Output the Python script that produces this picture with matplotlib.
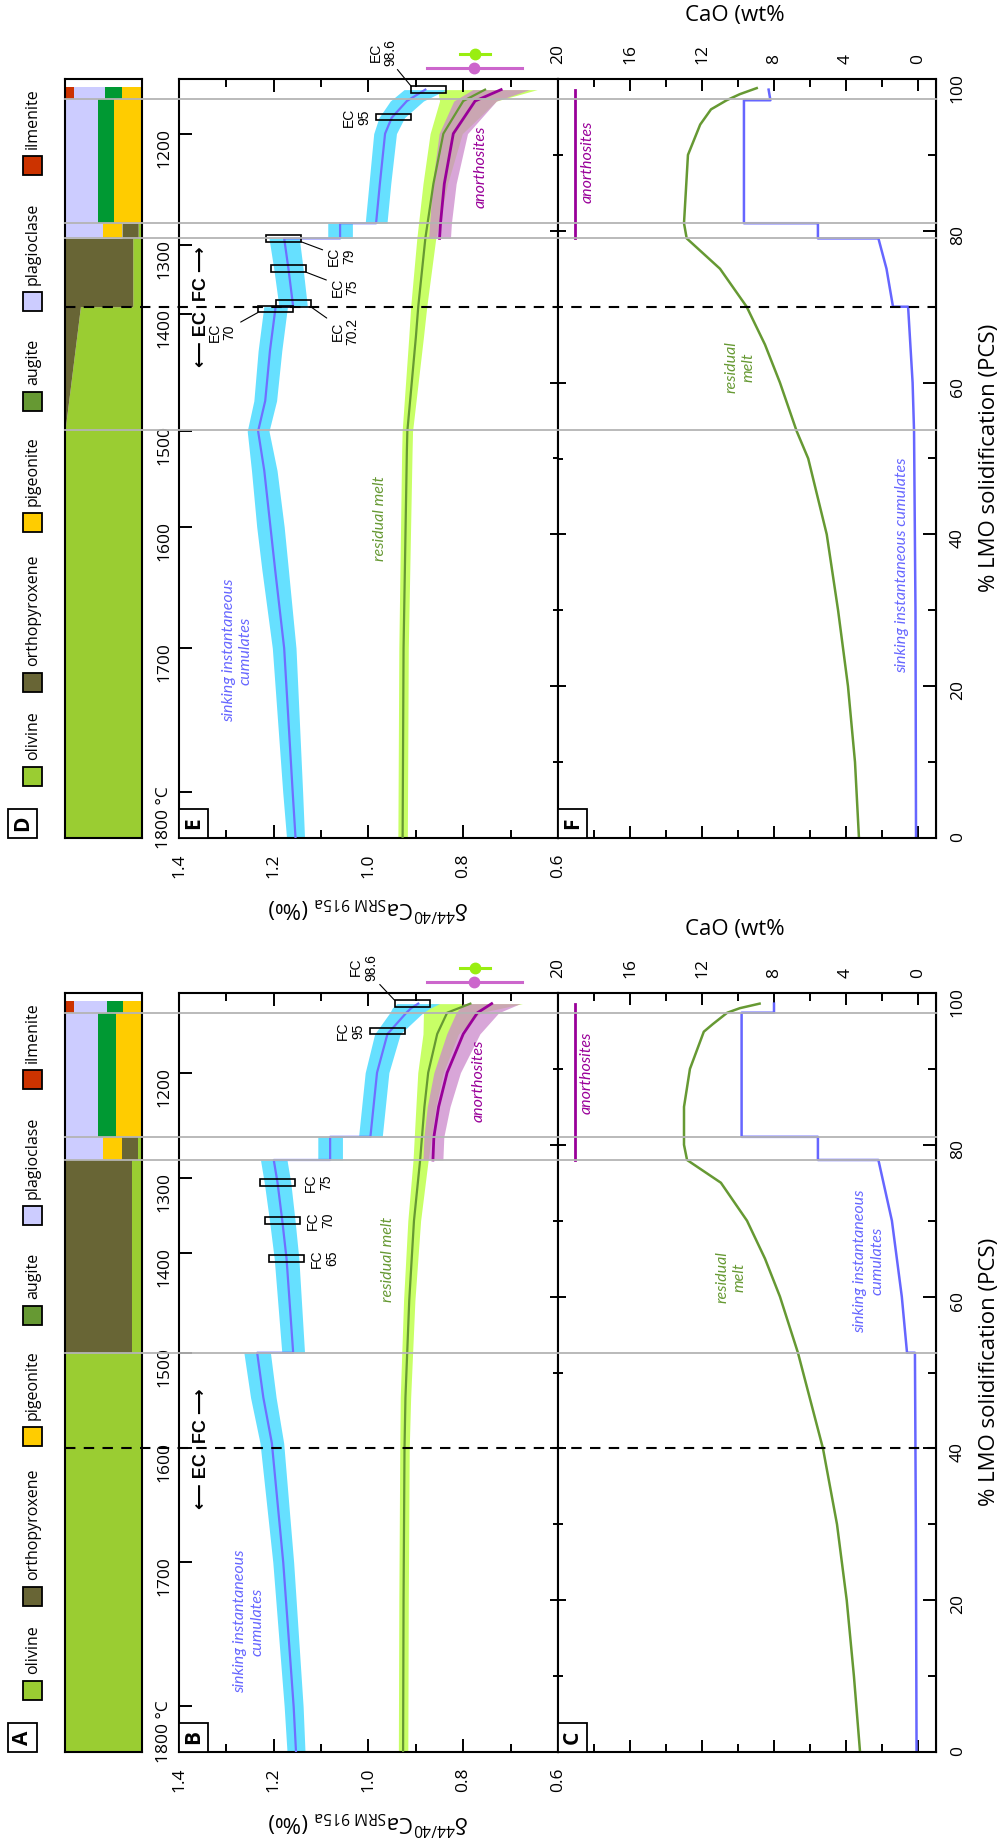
import numpy as np
import matplotlib
matplotlib.use('Agg')
import matplotlib.pyplot as plt
from matplotlib import transforms
from matplotlib.lines import Line2D
from matplotlib.patches import Rectangle
from matplotlib.ticker import MultipleLocator, FormatStrFormatter, NullFormatter

plt.rcParams['font.family'] = ['Open Sans', 'DejaVu Sans']
plt.rcParams['mathtext.fontset'] = 'custom'
plt.rcParams['mathtext.rm'] = 'Open Sans'
plt.rcParams['mathtext.it'] = 'Open Sans:italic'
plt.rcParams['mathtext.bf'] = 'Open Sans:bold'

W, H = 1005, 1843

# ---------------- data ----------------
minerals = ['olivine', 'orthopyroxene', 'pigeonite', 'augite', 'plagioclase', 'ilmenite']

# mineral strip: breakpoints (% LMO) and stacked fractions in the order above
fc_strip_lmo = [0, 52.6, 52.6, 78.0, 78.0, 81.05, 81.05, 97.4, 97.4, 99.0]
fc_strip_frac = [[1, 0, 0, 0, 0, 0], [1, 0, 0, 0, 0, 0],
                 [0.13, 0.87, 0, 0, 0, 0], [0.13, 0.87, 0, 0, 0, 0],
                 [0.05, 0.21, 0.25, 0, 0.49, 0], [0.05, 0.21, 0.25, 0, 0.49, 0],
                 [0, 0, 0.34, 0.23, 0.43, 0], [0, 0, 0.34, 0.23, 0.43, 0],
                 [0, 0, 0.25, 0.20, 0.43, 0.12], [0, 0, 0.25, 0.20, 0.43, 0.12]]
ec_strip_lmo = [0, 53.7, 70, 70, 79, 79, 81, 81, 97.4, 97.4, 99.0]
ec_strip_frac = [[1, 0, 0, 0, 0, 0], [1, 0, 0, 0, 0, 0], [0.80, 0.20, 0, 0, 0, 0],
                 [0.12, 0.88, 0, 0, 0, 0], [0.12, 0.88, 0, 0, 0, 0],
                 [0.05, 0.21, 0.25, 0, 0.49, 0], [0.05, 0.21, 0.25, 0, 0.49, 0],
                 [0, 0, 0.36, 0.21, 0.43, 0], [0, 0, 0.36, 0.21, 0.43, 0],
                 [0, 0, 0.26, 0.22, 0.40, 0.12], [0, 0, 0.26, 0.22, 0.40, 0.12]]

temp_labels = ['1800 °C', '1700', '1600', '1500', '1400', '1300', '1200']
fc_temp_lmo = [6.05, 25.0, 40.0, 52.6, 65.7, 75.6, 89.5]
ec_temp_lmo = [6.0, 25.0, 41.0, 53.6, 69.1, 78.1, 92.7]

fc_phase_lmo = [52.6, 78.0, 81.05, 97.4]
ec_phase_lmo = [53.7, 79.0, 81.0, 97.4]
fc_switch_lmo = 40
ec_switch_lmo = 70

# d44/40Ca of sinking instantaneous cumulates
fc_cum_lmo = [0, 6, 25, 40.7, 46.7, 52.6, 52.6, 65, 70, 75, 78, 78, 81.05, 81.05,
              89.5, 94.6, 97.4, 98.0, 98.6]
fc_cum_d = [1.153, 1.158, 1.180, 1.204, 1.222, 1.235, 1.159, 1.173, 1.182, 1.192, 1.200,
            1.081, 1.081, 0.996, 0.982, 0.960, 0.920, 0.910, 0.895]
fc_cum_err = [0.019, 0.020, 0.022, 0.025, 0.027, 0.028, 0.024, 0.026, 0.027, 0.028, 0.028,
              0.026, 0.026, 0.025, 0.025, 0.027, 0.035, 0.040, 0.045]
ec_cum_lmo = [0, 6, 25, 35.3, 41, 48.4, 53.6, 57.6, 64.2, 70, 70, 75, 79, 79, 81, 81,
              86.2, 92.8, 94.9, 97.1, 98.6]
ec_cum_d = [1.154, 1.160, 1.178, 1.197, 1.207, 1.220, 1.233, 1.218, 1.208, 1.196, 1.159,
            1.169, 1.178, 1.060, 1.060, 0.984, 0.976, 0.965, 0.951, 0.919, 0.880]
ec_cum_err = [0.019, 0.021, 0.025, 0.028, 0.029, 0.027, 0.023, 0.024, 0.025, 0.025, 0.030,
              0.031, 0.032, 0.026, 0.026, 0.023, 0.023, 0.024, 0.027, 0.035, 0.045]

# d44/40Ca of residual melt (band is asymmetric)
fc_melt_lmo = [0, 20, 40, 46.7, 59.5, 70, 78, 85, 89.5, 94.6, 97.4, 98.6]
fc_melt_d = [0.927, 0.926, 0.924, 0.922, 0.914, 0.904, 0.891, 0.882, 0.874, 0.855, 0.834, 0.785]
fc_melt_hi = [0.010, 0.010, 0.010, 0.011, 0.012, 0.013, 0.015, 0.018, 0.022, 0.030, 0.050, 0.090]
fc_melt_lo = [0.010, 0.010, 0.010, 0.011, 0.012, 0.014, 0.017, 0.024, 0.032, 0.045, 0.070, 0.110]
ec_melt_lmo = [0, 25, 51, 53.6, 66, 70, 79, 86.2, 92.8, 97.1, 98.6]
ec_melt_d = [0.928, 0.926, 0.919, 0.918, 0.900, 0.895, 0.880, 0.863, 0.842, 0.800, 0.754]
ec_melt_hi = [0.010, 0.010, 0.011, 0.011, 0.015, 0.016, 0.018, 0.022, 0.028, 0.050, 0.100]
ec_melt_lo = [0.010, 0.010, 0.011, 0.011, 0.016, 0.018, 0.022, 0.030, 0.040, 0.070, 0.110]

# d44/40Ca of anorthosites
fc_an_lmo = [78, 81.05, 85, 89.5, 94.6, 97.4, 98.6]
fc_an_d = [0.864, 0.862, 0.852, 0.834, 0.800, 0.770, 0.740]
fc_an_err = [0.021, 0.021, 0.024, 0.028, 0.035, 0.045, 0.060]
ec_an_lmo = [79, 81, 86.2, 92.8, 97.1, 98.6]
ec_an_d = [0.850, 0.848, 0.840, 0.821, 0.775, 0.720]
ec_an_err = [0.023, 0.023, 0.025, 0.030, 0.045, 0.060]

# sample boxes
fc_box_lab = ['FC\n65', 'FC\n70', 'FC\n75', 'FC\n95', 'FC\n98.6']
fc_box_lmo = [65, 70, 75, 95, 98.6]
fc_box_d = [1.173, 1.182, 1.192, 0.960, 0.908]
ec_box_lab = ['EC\n70', 'EC\n70.2', 'EC\n75', 'EC\n79', 'EC\n95', 'EC\n98.6']
ec_box_lmo = [69.7, 70.4, 75, 79, 95, 98.6]
ec_box_d = [1.196, 1.158, 1.169, 1.179, 0.947, 0.873]

# measured rocks shown above the panels (green, magenta)
pt_lmo = [103.3, 101.4]
pt_d = [0.775, 0.777]
pt_err = [0.032, 0.10]

# CaO (wt%)
fc_cao_cum_lmo = [0, 30, 52.6, 52.6, 60, 70, 78, 78, 81.05, 81.05, 97.4, 97.4, 98.6]
fc_cao_cum = [0.08, 0.12, 0.17, 0.61, 0.90, 1.45, 2.20, 5.56, 5.56, 9.80, 9.80, 8.00, 8.00]
ec_cao_cum_lmo = [0, 30, 53.6, 60, 70, 70, 75, 79, 79, 81, 81, 97.2, 97.2, 98.6]
ec_cao_cum = [0.11, 0.14, 0.22, 0.30, 0.55, 1.39, 1.75, 2.20, 5.56, 5.56, 9.67, 9.67, 8.20, 8.30]
fc_cao_melt_lmo = [0, 10, 20, 30, 40, 52.6, 60, 65, 70, 75, 78, 80, 85, 90, 94.9, 95.9,
                   97.4, 98.0, 98.6]
fc_cao_melt = [3.22, 3.56, 3.96, 4.50, 5.28, 6.67, 7.67, 8.50, 9.50, 10.95, 12.83, 13.0,
               13.0, 12.67, 11.9, 11.4, 10.6, 9.9, 8.8]
ec_cao_melt_lmo = [0, 10, 20, 30, 40, 50, 53.6, 60, 65, 70, 75, 79, 81, 90, 94, 96, 97.2,
                   98.0, 98.8]
ec_cao_melt = [3.28, 3.50, 3.89, 4.44, 5.07, 6.10, 6.74, 7.67, 8.50, 9.52, 11.0, 12.85,
               13.0, 12.78, 12.1, 11.5, 10.63, 9.9, 8.96]
fc_cao_an_lmo = [78, 98.6]
ec_cao_an_lmo = [79, 98.6]
cao_an = [19.05, 19.05]

# ---------------- styles ----------------
LEGEND_COLORS = ['#9acd32', '#686535', '#ffcc00', '#669933', '#ccccff', '#cc3300']
STRIP_COLORS = ['#9acd32', '#686535', '#ffcc00', '#009933', '#ccccff', '#cc3300']
C_CUM, C_CUM_BAND = '#6f6fff', '#66e0ff'
C_MELT, C_MELT_BAND = '#669933', '#c8ff66'
C_AN, C_AN_BAND = '#990099', '#cc88cc'
C_PHASE = '#b4b4b4'
ITAL = dict(family=['Lato', 'DejaVu Sans'], style='italic', fontsize=11.5)
TICK = 12.5


def px_axes(fig, x0, y0, x1, y1):
    return fig.add_axes([x0 / W, 1 - y1 / H, (x1 - x0) / W, (y1 - y0) / H])


def ftext(fig, x, y, s, **kw):
    return fig.text(x / W, 1 - y / H, s, **kw)


def frect(fig, x0, y0, x1, y1, **kw):
    r = Rectangle((x0 / W, 1 - y1 / H), (x1 - x0) / W, (y1 - y0) / H,
                  transform=fig.transFigure, **kw)
    fig.add_artist(r)
    return r


def panel_label(fig, x0, y1, letter):
    frect(fig, x0, y1 - 29, x0 + 29, y1, fc='white', ec='black', lw=1.3, zorder=20)
    ftext(fig, x0 + 14.5, y1 - 14.5, letter, rotation=90, ha='center', va='center',
          fontsize=15, fontweight='bold', zorder=21)


def column(fig, dy, m):
    top, bot = 993 + dy, 1752 + dy
    axs = px_axes(fig, 65, top, 142, bot)
    axd = px_axes(fig, 179, top, 558, bot)
    axc = px_axes(fig, 558, top, 936, bot)

    # legend
    sq_top = [1681, 1587, 1427, 1306, 1206, 1070]
    for name, col, y in zip(minerals, LEGEND_COLORS, sq_top):
        frect(fig, 23, y + dy, 42, y + 19 + dy, fc=col, ec='black', lw=1.3)
        ftext(fig, 33, y + dy - 7, name, rotation=90, ha='center', va='bottom', fontsize=11.5)
    panel_label(fig, 8, bot, m['letters'][0])

    # mineral strip
    frac = np.asarray(m['strip_frac'], float)
    cum = np.hstack([np.zeros((len(frac), 1)), np.cumsum(frac, axis=1)])
    for k, col in enumerate(STRIP_COLORS):
        axs.fill_betweenx(m['strip_lmo'], cum[:, k], cum[:, k + 1], color=col, lw=0)
    axs.set_xlim(1, 0)
    axs.set_ylim(0, 100)
    axs.set_xticks([])
    axs.set_yticks([])

    # d44/40Ca panel
    lm = np.asarray(m['melt_lmo'])
    d = np.asarray(m['melt_d'])
    axd.fill_betweenx(lm, d - np.asarray(m['melt_lo']), d + np.asarray(m['melt_hi']),
                      color=C_MELT_BAND, lw=0, zorder=1)
    d = np.asarray(m['cum_d'])
    e = np.asarray(m['cum_err'])
    axd.fill_betweenx(m['cum_lmo'], d - e, d + e, color=C_CUM_BAND, lw=0, zorder=2)
    d = np.asarray(m['an_d'])
    e = np.asarray(m['an_err'])
    axd.fill_betweenx(m['an_lmo'], d - e, d + e, color=C_AN_BAND, alpha=0.75, lw=0, zorder=3)
    axd.plot(m['melt_d'], m['melt_lmo'], color=C_MELT, lw=1.6, zorder=4)
    axd.plot(m['cum_d'], m['cum_lmo'], color=C_CUM, lw=1.6, zorder=5)
    axd.plot(m['an_d'], m['an_lmo'], color=C_AN, lw=2.0, zorder=5)

    for (bd, bl, lab, off, lead) in zip(m['box_d'], m['box_lmo'], m['box_lab'],
                                        m['box_off'], m['box_lead']):
        axd.add_patch(Rectangle((bd - 0.037, bl - 0.45), 0.074, 0.9, fc='none', ec='black',
                                lw=1.2, zorder=7))
        sx = 1 if off[0] > 0 else -1
        sy = 1 if off[1] > 0 else -1
        xy = (bd - sx * 0.037, bl + sy * 0.45) if lead else (bd, bl)
        axd.annotate(lab, xy=xy, xytext=(off[0] * 0.72, off[1] * 0.72),
                     textcoords='offset points', rotation=90, ha='center', va='center',
                     family=['Liberation Sans', 'DejaVu Sans'], fontsize=10,
                     linespacing=1.1, annotation_clip=False, zorder=8,
                     arrowprops=dict(arrowstyle='-', lw=0.8, shrinkA=1, shrinkB=0,
                                     color='black') if lead else None)

    for dd, ll, ee, col in zip(pt_d, pt_lmo, pt_err, ['#99ee11', '#cc66cc']):
        axd.plot([dd - ee, dd + ee], [ll, ll], color=col, lw=2.2, clip_on=False, zorder=9)
        axd.plot([dd], [ll], 'o', color=col, ms=7.5, clip_on=False, zorder=9)

    axd.text(*m['lab_cum'], 'sinking instantaneous\ncumulates', color='#6666ff', rotation=90,
             ha='center', va='center', linespacing=1.3, **ITAL)
    axd.text(*m['lab_melt'], 'residual melt', color=C_MELT, rotation=90,
             ha='center', va='center', **ITAL)
    axd.text(*m['lab_an'], 'anorthosites', color=C_AN, rotation=90,
             ha='center', va='center', **ITAL)
    axd.text(1.353, m['switch'], '⟵ EC  FC ⟶', rotation=90, ha='center', va='center',
             fontsize=13, fontweight='bold', family=['Liberation Sans', 'DejaVu Sans'])

    axd.set_xlim(1.4, 0.6)
    axd.set_ylim(0, 100)
    axd.xaxis.set_major_locator(MultipleLocator(0.2))
    axd.xaxis.set_minor_locator(MultipleLocator(0.1))
    axd.xaxis.set_major_formatter(FormatStrFormatter('%.1f'))
    axd.tick_params(axis='x', which='both', direction='in', top=True, bottom=True,
                    width=1.4, labelrotation=90, labelsize=TICK, pad=11)
    axd.tick_params(axis='x', which='major', length=9.4)
    axd.tick_params(axis='x', which='minor', length=5.8)
    axd.set_yticks(m['temp_lmo'])
    axd.set_yticklabels(temp_labels)
    axd.tick_params(axis='y', which='major', direction='in', left=True, right=False,
                    length=9.4, width=1.4, labelrotation=90, labelsize=TICK, pad=5)
    sec = axd.secondary_yaxis('right')
    sec.yaxis.set_major_locator(MultipleLocator(20))
    sec.yaxis.set_minor_locator(MultipleLocator(10))
    sec.yaxis.set_major_formatter(NullFormatter())
    sec.tick_params(which='both', direction='in', width=1.4)
    sec.tick_params(which='major', length=5.8)
    sec.tick_params(which='minor', length=3.6)
    panel_label(fig, 179, bot, m['letters'][1])

    # CaO panel
    axc.plot(m['cao_melt'], m['cao_melt_lmo'], color=C_MELT, lw=1.8)
    axc.plot(m['cao_cum'], m['cao_cum_lmo'], color='#6666ff', lw=1.8)
    axc.plot(cao_an, m['cao_an_lmo'], color=C_AN, lw=2.0)
    axc.text(*m['clab_an'], 'anorthosites', color=C_AN, rotation=90,
             ha='center', va='center', **ITAL)
    axc.text(*m['clab_melt'], 'residual\nmelt', color=C_MELT, rotation=90,
             ha='center', va='center', linespacing=1.3, **ITAL)
    axc.text(*m['clab_cum'], m['clab_cum_txt'], color='#6666ff', rotation=90,
             ha='center', va='center', linespacing=1.3, **ITAL)
    axc.set_xlim(20, -1)
    axc.set_ylim(0, 100)
    axc.xaxis.set_major_locator(MultipleLocator(4))
    axc.xaxis.set_minor_locator(MultipleLocator(2))
    axc.xaxis.set_major_formatter(FormatStrFormatter('%d'))
    axc.tick_params(axis='x', which='both', direction='in', top=True, bottom=True,
                    labeltop=True, labelbottom=False, width=1.4, labelrotation=90,
                    labelsize=TICK, pad=11)
    axc.tick_params(axis='x', which='major', length=8.6)
    axc.tick_params(axis='x', which='minor', length=5.8)
    axc.yaxis.set_major_locator(MultipleLocator(20))
    axc.yaxis.set_minor_locator(MultipleLocator(10))
    axc.yaxis.set_major_formatter(NullFormatter())
    axc.tick_params(axis='y', which='both', direction='in', left=True, right=False, width=1.4)
    axc.tick_params(axis='y', which='major', length=5.8)
    axc.tick_params(axis='y', which='minor', length=3.6)
    sec = axc.secondary_yaxis('right')
    sec.yaxis.set_major_locator(MultipleLocator(20))
    sec.yaxis.set_minor_locator(MultipleLocator(10))
    sec.yaxis.set_major_formatter(FormatStrFormatter('%d'))
    sec.tick_params(which='both', direction='in', width=1.4, labelrotation=90,
                    labelsize=TICK, pad=10)
    sec.tick_params(which='major', length=9.4)
    sec.tick_params(which='minor', length=5.8)
    panel_label(fig, 558, bot, m['letters'][2])

    for ax in (axs, axd, axc):
        for sp in ax.spines.values():
            sp.set_linewidth(1.5)

    # phase boundaries and EC/FC switch drawn across strip, d44/40Ca and CaO panels
    tr = transforms.blended_transform_factory(fig.transFigure, axd.transData)
    for v in m['phase']:
        fig.add_artist(Line2D([65 / W, 936 / W], [v, v], transform=tr, color=C_PHASE,
                              lw=1.3, zorder=10))
    fig.add_artist(Line2D([65 / W, 936 / W], [m['switch'], m['switch']], transform=tr,
                          color='black', lw=1.5, ls=(0, (5, 4)), zorder=10))

    # axis titles
    ftext(fig, 368.5, 1823 + dy, r'δ$^{44/40}$Ca$_{\mathrm{SRM\ 915a}}$ (‰)', rotation=180,
          ha='center', va='center', fontsize=16)
    ftext(fig, 685, 930 + dy, 'CaO (wt%', ha='left', va='center', fontsize=16)
    ftext(fig, 989, 1372 + dy, '% LMO solidification (PCS)', rotation=90,
          ha='center', va='center', fontsize=16)


fc = dict(letters='ABC', strip_lmo=fc_strip_lmo, strip_frac=fc_strip_frac,
          temp_lmo=fc_temp_lmo, phase=fc_phase_lmo, switch=fc_switch_lmo,
          cum_lmo=fc_cum_lmo, cum_d=fc_cum_d, cum_err=fc_cum_err,
          melt_lmo=fc_melt_lmo, melt_d=fc_melt_d, melt_hi=fc_melt_hi, melt_lo=fc_melt_lo,
          an_lmo=fc_an_lmo, an_d=fc_an_d, an_err=fc_an_err,
          box_lab=fc_box_lab, box_lmo=fc_box_lmo, box_d=fc_box_d,
          box_off=[(38, 0), (38, 0), (41, 0), (-37, 0), (-31, 33)],
          box_lead=[False, False, False, False, True],
          lab_cum=(1.252, 17.2), lab_melt=(0.959, 64.9), lab_an=(0.768, 88.4),
          cao_cum_lmo=fc_cao_cum_lmo, cao_cum=fc_cao_cum,
          cao_melt_lmo=fc_cao_melt_lmo, cao_melt=fc_cao_melt, cao_an_lmo=fc_cao_an_lmo,
          clab_an=(18.4, 89.5), clab_melt=(10.4, 62.6), clab_cum=(2.72, 64.7),
          clab_cum_txt='sinking instantaneous\ncumulates')
ec = dict(letters='DEF', strip_lmo=ec_strip_lmo, strip_frac=ec_strip_frac,
          temp_lmo=ec_temp_lmo, phase=ec_phase_lmo, switch=ec_switch_lmo,
          cum_lmo=ec_cum_lmo, cum_d=ec_cum_d, cum_err=ec_cum_err,
          melt_lmo=ec_melt_lmo, melt_d=ec_melt_d, melt_hi=ec_melt_hi, melt_lo=ec_melt_lo,
          an_lmo=ec_an_lmo, an_d=ec_an_d, an_err=ec_an_err,
          box_lab=ec_box_lab, box_lmo=ec_box_lmo, box_d=ec_box_d,
          box_off=[(-36, -20), (34, -24), (39, -15), (40, -15), (-37, 0), (-28, 34)],
          box_lead=[True, True, True, True, False, True],
          lab_cum=(1.277, 24.7), lab_melt=(0.975, 42.1), lab_an=(0.764, 88.4),
          cao_cum_lmo=ec_cao_cum_lmo, cao_cum=ec_cao_cum,
          cao_melt_lmo=ec_cao_melt_lmo, cao_melt=ec_cao_melt, cao_an_lmo=ec_cao_an_lmo,
          clab_an=(18.33, 89.1), clab_melt=(9.9, 62.0), clab_cum=(0.89, 35.9),
          clab_cum_txt='sinking instantaneous cumulates')

fig = plt.figure(figsize=(W / 100, H / 100), dpi=100)
column(fig, 0, fc)
column(fig, -914, ec)
fig.savefig('out.png', dpi=100)
